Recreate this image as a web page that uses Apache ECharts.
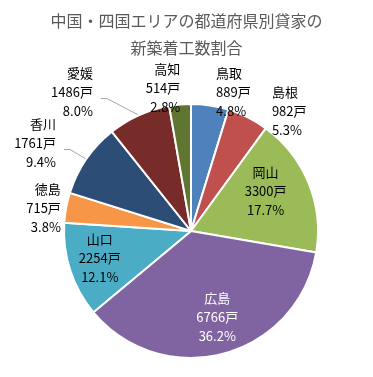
<!DOCTYPE html>
<html><head><meta charset="utf-8">
<script src="https://cdn.jsdelivr.net/npm/echarts@6/dist/echarts.min.js"></script>
<style>html,body{margin:0;padding:0;background:#fff}#c{width:373px;height:377px}</style>
</head><body><div id="c"></div>
<script>
const titleText = '中国・四国エリアの都道府県別貸家の\n新築着工数割合';
const categories = ['鳥取','島根','岡山','広島','山口','徳島','香川','愛媛','高知'];
const values = [889, 982, 3300, 6766, 2254, 715, 1761, 1486, 514];
const colors = ['#4F81BD','#C0504D','#9BBB59','#8064A2','#4BACC6','#F79646','#2C4D75','#772C2A','#5F7530'];
const insideSet = ['岡山','広島','山口'];
const leaderSet = ['愛媛','香川'];
// label nudges (styling only)
const labelShift = [[0,-5],[-32,-45],[13,-15],[9,22],[-28,6],[-2,-65],[-1,-71],[14,-63],[6,-8]];
const total = values.reduce((a,b)=>a+b,0);

const chart = echarts.init(document.getElementById('c'), null, {renderer:'canvas'});
const data = categories.map((n,i)=>{
  const inside = insideSet.includes(n);
  return {
    name:n, value:values[i],
    itemStyle:{color:colors[i]},
    label:{position: inside?'inside':'outside', color: n==='広島'?'#fff':'#000'},
    labelLine:{show: leaderSet.includes(n)}
  };
});
chart.setOption({
  animation:false,
  title:{text:titleText,left:'center',top:2,textStyle:{fontFamily:'Noto Sans CJK JP',fontSize:16,fontWeight:'normal',color:'#595959',lineHeight:27}},
  series:[{
    type:'pie',
    center:[191,231],
    radius:[0,127],
    startAngle:90,
    clockwise:true,
    itemStyle:{borderColor:'#fff',borderWidth:2},
    label:{fontFamily:'Noto Sans CJK JP',fontSize:13,lineHeight:19,align:'center',
      formatter:p=>p.name+'\n'+p.value+'戸\n'+(p.value/total*100).toFixed(1)+'%'},
    labelLine:{length:8,length2:0,lineStyle:{color:'#A6A6A6',width:1}},
    labelLayout:p=>{
      const s = labelShift[p.dataIndex];
      const out = {dx:s[0], dy:s[1]};
      if (leaderSet.includes(categories[p.dataIndex]) && p.labelLinePoints) {
        const r = p.labelRect;
        const x = r.x + s[0] + r.width + 8;
        const y = r.y + s[1] + r.height/2 + 6;
        out.labelLinePoints = [p.labelLinePoints[0], [x+6, y], [x, y]];
      }
      return out;
    },
    data:data
  }]
});
</script></body></html>
